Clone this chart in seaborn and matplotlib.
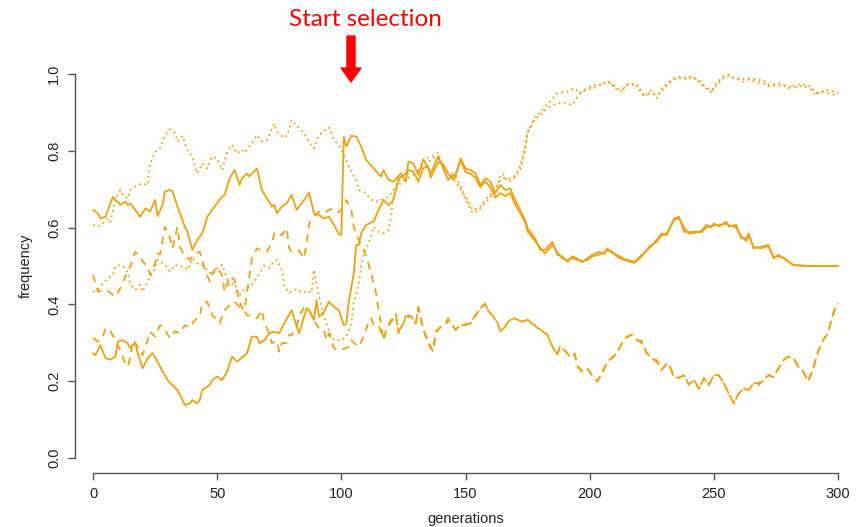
import matplotlib
matplotlib.use("Agg")
import matplotlib.pyplot as plt
import matplotlib.patches as mpatches
import seaborn as sns
import pandas as pd

# ---- data: (generation, allele frequency) ----
solid_a = [(0,0.646),(2,0.637),(3,0.624),(5,0.628),(8,0.68),(11,0.659),(13,0.667),(14,0.659),(15,0.663),(17,0.646),
           (19,0.628),(21,0.65),(23,0.642),(25,0.672),(26,0.63),(28,0.659),(29,0.694),(31,0.698),(32,0.694),(34,0.655),
           (37,0.602),(38,0.59),(40,0.542),(42,0.568),(44,0.585),(46,0.628),(49,0.655),(52,0.681),(53,0.685),(55,0.728),
           (57,0.75),(59,0.711),(60,0.728),(62,0.741),(63,0.733),(66,0.754),(68,0.698),(72,0.655),(73,0.659),(74,0.637),
           (76,0.655),(78,0.663),(80,0.685),(82,0.646),(85,0.672),(87,0.691),(89,0.637),(91,0.633),(93,0.624),(95,0.628),
           (97,0.607),(99,0.583),(100,0.581),(101,0.837),(102,0.811),(104,0.839),(106,0.837),(108,0.811),(110,0.776),
           (113,0.754),(116,0.733),(117,0.75),(119,0.724),(121,0.72),(124,0.741),(126,0.72),(127,0.772),(129,0.767),
           (131,0.737),(133,0.778),(135,0.754),(136,0.741),(139,0.785),(141,0.754),(143,0.724),(145,0.737),(146,0.733),
           (148,0.78),(150,0.754),(152,0.75),(154,0.741),(156,0.711),(158,0.728),(160,0.72),(162,0.689),(164,0.711),
           (166,0.698),(168,0.702),(170,0.672),(174,0.62),(175,0.598),(178,0.572),(180,0.542),(182,0.542),(185,0.563),
           (187,0.529),(189,0.525),(191,0.511),(193,0.525),(195,0.52),(197,0.51),(199,0.52),(201,0.529),(204,0.537),
           (206,0.531),(207,0.546),(209,0.534),(211,0.529),(214,0.518),(218,0.511),(221,0.529),(224,0.546),(227,0.568),
           (229,0.585),(231,0.58),(234,0.624),(236,0.628),(238,0.589),(240,0.589),(242,0.585),(245,0.592),(247,0.607),
           (249,0.6),(250,0.611),(252,0.603),(255,0.615),(256,0.603),(259,0.607),(261,0.572),(263,0.572),(264,0.585),
           (266,0.546),(269,0.55),(272,0.555),(274,0.52),(276,0.529),(278,0.52),(282,0.503),(288,0.5),(300,0.5)]

solid_b = [(0,0.273),(1,0.268),(3,0.294),(5,0.26),(7,0.256),(9,0.264),(10,0.303),(12,0.307),(14,0.298),(15,0.286),
           (17,0.30),(18,0.273),(20,0.234),(22,0.26),(24,0.273),(27,0.238),(30,0.203),(34,0.177),(37,0.138),(39,0.142),
           (40,0.151),(42,0.142),(43,0.151),(44,0.177),(47,0.19),(48,0.203),(50,0.212),(52,0.203),(54,0.225),(56,0.264),
           (58,0.251),(60,0.262),(62,0.273),(64,0.316),(66,0.316),(67,0.299),(69,0.307),(71,0.325),(73,0.329),(75,0.325),
           (77,0.351),(80,0.385),(82,0.342),(83,0.325),(85,0.368),(86,0.39),(87,0.385),(89,0.359),(90,0.411),(91,0.368),
           (93,0.38),(94,0.394),(95,0.407),(97,0.394),(99,0.385),(101,0.346),(102,0.35),(103,0.407),(105,0.481),
           (106,0.555),(107,0.555),(108,0.585),(110,0.607),(113,0.616),(115,0.646),(117,0.672),(119,0.658),(121,0.672),
           (123,0.728),(125,0.735),(127,0.75),(129,0.745),(131,0.72),(133,0.755),(135,0.76),(136,0.73),(139,0.77),
           (141,0.765),(143,0.74),(145,0.725),(146,0.74),(148,0.775),(150,0.745),(152,0.74),(154,0.73),(156,0.705),
           (158,0.72),(160,0.705),(162,0.678),(164,0.69),(166,0.682),(168,0.69),(170,0.66),(174,0.615),(175,0.59),
           (178,0.565),(180,0.548),(182,0.532),(185,0.555),(187,0.535),(189,0.52),(191,0.515),(193,0.52),(195,0.516),
           (197,0.513),(199,0.515),(201,0.525),(204,0.53),(206,0.536),(207,0.54),(209,0.538),(211,0.524),(214,0.515),
           (218,0.508),(221,0.525),(224,0.55),(227,0.563),(229,0.58),(231,0.585),(234,0.62),(236,0.625),(238,0.6),
           (240,0.584),(242,0.59),(245,0.588),(247,0.6),(249,0.605),(250,0.607),(252,0.606),(255,0.61),(256,0.607),
           (259,0.6),(261,0.578),(263,0.565),(264,0.58),(266,0.55),(269,0.546),(272,0.552),(274,0.524),(276,0.525),
           (278,0.522),(282,0.502),(288,0.5),(300,0.5)]

dotted_a = [(0,0.607),(2,0.603),(4,0.611),(6,0.624),(7,0.615),(9,0.672),(11,0.698),(12,0.685),(14,0.676),(15,0.698),
            (18,0.711),(20,0.715),(22,0.711),(23,0.767),(25,0.797),(27,0.806),(29,0.841),(31,0.856),(33,0.846),(34,0.824),
            (36,0.839),(38,0.802),(40,0.785),(42,0.741),(44,0.767),(46,0.754),(48,0.785),(50,0.78),(52,0.75),(54,0.798),
            (56,0.815),(58,0.793),(60,0.803),(61,0.795),(64,0.819),(66,0.841),(68,0.824),(70,0.828),(73,0.87),(74,0.85),
            (77,0.833),(79,0.854),(80,0.88),(83,0.859),(85,0.846),(87,0.824),(89,0.806),(91,0.841),(93,0.85),(95,0.861),
            (97,0.828),(99,0.815),(101,0.789),(103,0.759),(105,0.733),(106,0.724),(107,0.698),(109,0.694),(111,0.681),
            (113,0.668),(115,0.668),(117,0.676),(119,0.68),(121,0.698),(123,0.72),(125,0.733),(128,0.746),(131,0.75),
            (134,0.78),(136,0.785),(138,0.79),(139,0.795),(141,0.759),(143,0.746),(146,0.733),(148,0.707),(150,0.672),
            (153,0.637),(156,0.65),(159,0.672),(162,0.698),(164,0.733),(165,0.741),(167,0.72),(169,0.724),(172,0.75),
            (174,0.802),(175,0.846),(177,0.876),(178,0.889),(180,0.898),(182,0.915),(184,0.928),(187,0.95),(191,0.954),
            (194,0.963),(196,0.95),(199,0.963),(203,0.974),(205,0.97),(207,0.983),(209,0.972),(211,0.958),(213,0.955),
            (215,0.974),(218,0.972),(219,0.974),(220,0.958),(222,0.941),(225,0.958),(227,0.937),(229,0.963),(232,0.98),
            (234,0.989),(237,0.993),(239,0.989),(241,0.995),(244,0.98),(246,0.967),(249,0.951),(251,0.976),(254,0.995),
            (256,0.998),(258,0.989),(262,0.987),(264,0.989),(267,0.985),(270,0.984),(272,0.972),(275,0.974),(277,0.976),
            (280,0.963),(283,0.972),(286,0.972),(289,0.967),(291,0.95),(293,0.953),(296,0.958),(299,0.953),(300,0.951)]

dotted_b = [(0,0.433),(2,0.44),(4,0.455),(6,0.468),(8,0.477),(9,0.498),(11,0.503),(13,0.495),(14,0.481),(15,0.455),
            (17,0.438),(19,0.451),(20,0.433),(22,0.46),(23,0.473),(24,0.48),(26,0.516),(27,0.512),(29,0.503),(31,0.486),
            (33,0.503),(35,0.498),(37,0.498),(38,0.49),(40,0.52),(42,0.507),(44,0.503),(46,0.49),(48,0.477),(50,0.494),
            (52,0.503),(54,0.468),(55,0.447),(57,0.455),(59,0.424),(61,0.44),(63,0.445),(65,0.46),(67,0.48),(69,0.5),
            (71,0.495),(72,0.505),(74,0.516),(76,0.49),(77,0.45),(79,0.43),(82,0.44),(84,0.43),(86,0.435),(88,0.43),
            (89,0.49),(91,0.42),(93,0.368),(95,0.333),(97,0.307),(100,0.307),(102,0.316),(104,0.351),(105,0.403),
            (107,0.455),(108,0.498),(109,0.533),(111,0.559),(113,0.602),(115,0.589),(117,0.585),(119,0.594),(120,0.628),
            (121,0.685),(123,0.711),(125,0.72),(128,0.735),(131,0.745),(134,0.765),(136,0.775),(138,0.785),(140,0.77),
            (142,0.75),(144,0.735),(146,0.72),(148,0.70),(150,0.68),(153,0.645),(156,0.655),(159,0.68),(162,0.70),
            (164,0.725),(166,0.73),(168,0.728),(170,0.735),(172,0.76),(174,0.81),(175,0.85),(177,0.87),(178,0.885),
            (180,0.89),(182,0.905),(184,0.915),(187,0.924),(190,0.925),(193,0.919),(195,0.94),(197,0.955),(199,0.958),
            (203,0.967),(205,0.975),(207,0.978),(209,0.975),(211,0.962),(213,0.958),(215,0.97),(218,0.975),(220,0.962),
            (222,0.946),(225,0.95),(227,0.945),(229,0.955),(232,0.975),(234,0.985),(237,0.99),(239,0.985),(241,0.99),
            (244,0.985),(246,0.97),(249,0.955),(251,0.97),(254,0.99),(256,0.995),(258,0.99),(262,0.98),(264,0.985),
            (267,0.98),(270,0.975),(272,0.968),(275,0.97),(277,0.97),(280,0.968),(283,0.965),(286,0.97),(289,0.96),
            (291,0.945),(293,0.955),(296,0.95),(299,0.945),(300,0.948)]

dashed_a = [(0,0.477),(2,0.433),(4,0.438),(6,0.435),(9,0.42),(11,0.442),(13,0.473),(14,0.49),(15,0.498),(17,0.537),
            (19,0.525),(20,0.512),(22,0.498),(23,0.477),(25,0.507),(26,0.533),(27,0.53),(29,0.602),(31,0.572),(32,0.546),
            (34,0.602),(35,0.55),(37,0.525),(39,0.516),(41,0.533),(43,0.537),(45,0.49),(47,0.46),(48,0.481),(50,0.498),
            (52,0.475),(53,0.433),(55,0.473),(57,0.464),(58,0.433),(60,0.39),(61,0.385),(62,0.43),(64,0.52),(66,0.546),
            (68,0.54),(70,0.537),(72,0.559),(73,0.585),(74,0.589),(76,0.58),(78,0.598),(79,0.546),(80,0.537),(83,0.54),
            (85,0.52),(86,0.559),(87,0.611),(89,0.628),(91,0.642),(93,0.638),(95,0.646),(97,0.65),(99,0.64),(101,0.655),
            (102,0.672),(104,0.646),(105,0.602),(107,0.568),(109,0.542),(110,0.525),(112,0.481),(114,0.429),(115,0.385),
            (117,0.307),(118,0.333),(120,0.355),(122,0.37),(123,0.33),(125,0.35),(126,0.37),(128,0.365),(130,0.35),
            (131,0.39),(133,0.335),(134,0.32),(136,0.285),(137,0.28),(138,0.325),(140,0.342),(142,0.345),(143,0.36),
            (144,0.35),(146,0.335),(148,0.345),(150,0.35),(152,0.35),(154,0.37),(156,0.39),(158,0.40),(159,0.385),
            (161,0.37),(163,0.35),(164,0.33),(166,0.345),(168,0.36),(170,0.362),(173,0.355),(175,0.357),(177,0.35),
            (179,0.338),(181,0.33),(183,0.32),(185,0.29),(187,0.27),(188,0.288),(190,0.28),(192,0.265),(194,0.27),
            (195,0.24),(197,0.226),(199,0.232),(201,0.215),(203,0.2),(205,0.22),(207,0.25),(209,0.262),(211,0.272),
            (213,0.3),(215,0.315),(217,0.322),(219,0.308),(221,0.30),(223,0.272),(225,0.26),(227,0.255),(229,0.23),
            (231,0.245),(232,0.242),(234,0.21),(236,0.21),(238,0.215),(240,0.192),(242,0.203),(244,0.18),(246,0.208),
            (248,0.19),(250,0.216),(252,0.214),(254,0.195),(256,0.168),(258,0.142),(260,0.168),(262,0.18),(264,0.176),
            (266,0.195),(268,0.19),(270,0.203),(272,0.216),(274,0.21),(276,0.233),(278,0.255),(280,0.264),(282,0.26),
            (284,0.238),(286,0.225),(288,0.199),(290,0.233),(292,0.277),(294,0.307),(296,0.325),(297,0.351),(299,0.394),
            (300,0.403)]

dashed_b = [(0,0.312),(2,0.303),(4,0.316),(5,0.338),(7,0.33),(9,0.307),(11,0.281),(13,0.246),(14,0.238),(15,0.26),
            (16,0.307),(18,0.29),(20,0.268),(22,0.307),(23,0.329),(25,0.316),(27,0.346),(29,0.333),(31,0.312),(33,0.33),
            (35,0.325),(37,0.346),(39,0.34),(41,0.359),(43,0.368),(44,0.403),(46,0.407),(48,0.372),(50,0.359),(51,0.351),
            (53,0.385),(55,0.398),(57,0.407),(59,0.394),(60,0.39),(62,0.372),(64,0.37),(66,0.364),(68,0.385),(69,0.351),
            (71,0.325),(72,0.299),(74,0.305),(75,0.277),(76,0.299),(78,0.3),(79,0.321),(80,0.32),(82,0.342),(83,0.368),
            (85,0.394),(87,0.385),(89,0.359),(91,0.338),(93,0.333),(94,0.307),(95,0.325),(97,0.286),(99,0.281),
            (101,0.284),(103,0.29),(104,0.307),(105,0.30),(107,0.29),(109,0.316),(111,0.355),(112,0.364),(113,0.346),
            (115,0.345),(117,0.31),(118,0.33),(120,0.36),(122,0.375),(123,0.325),(125,0.351),(126,0.372),(128,0.37),
            (130,0.351),(131,0.394),(133,0.333),(134,0.316),(136,0.29),(137,0.277),(138,0.329),(140,0.342),(142,0.35),
            (143,0.364),(144,0.355),(146,0.333),(148,0.346),(150,0.346),(152,0.351),(154,0.372),(156,0.39),(158,0.403),
            (159,0.385),(161,0.368),(163,0.351),(164,0.329),(166,0.342),(168,0.359),(170,0.364),(173,0.355),(175,0.36),
            (177,0.353),(179,0.338),(181,0.333),(183,0.321),(185,0.29),(187,0.268),(188,0.29),(190,0.281),(192,0.264),
            (194,0.273),(195,0.238),(197,0.225),(199,0.235),(201,0.216),(203,0.199),(205,0.221),(207,0.251),(209,0.26),
            (211,0.273),(213,0.299),(215,0.316),(217,0.32),(219,0.307),(221,0.305),(223,0.273),(225,0.26),(227,0.25),
            (229,0.229),(231,0.246),(232,0.245),(234,0.212),(236,0.208),(238,0.216),(240,0.19),(242,0.203),(244,0.181),
            (246,0.208),(248,0.19),(250,0.216),(252,0.216),(254,0.195),(256,0.168),(258,0.142),(260,0.168),(262,0.181),
            (264,0.177),(266,0.195),(268,0.195),(270,0.203),(272,0.216),(274,0.212),(276,0.233),(278,0.255),(280,0.264),
            (282,0.262),(284,0.238),(286,0.225),(288,0.2),(290,0.233),(292,0.277),(294,0.307),(296,0.325),(297,0.351),
            (299,0.394),(300,0.403)]

x_ticks = [0, 50, 100, 150, 200, 250, 300]
y_ticks = [0.0, 0.2, 0.4, 0.6, 0.8, 1.0]
y_tick_labels = ["0.0", "0.2", "0.4", "0.6", "0.8", "1.0"]
x_label = "generations"
y_label = "frequency"
annotation = "Start selection"

series = [("solid_a", "solid", solid_a), ("solid_b", "solid", solid_b),
          ("dotted_a", "dotted", dotted_a), ("dotted_b", "dotted", dotted_b),
          ("dashed_a", "dashed", dashed_a), ("dashed_b", "dashed", dashed_b)]

rows = []
for name, kind, pts in series:
    for g, f in pts:
        rows.append({"run": name, "kind": kind, "gen": g, "freq": f})
df = pd.DataFrame(rows)

# ---- styling ----
sns.set_theme(style="white")
plt.rcParams["font.family"] = ["Liberation Sans", "DejaVu Sans"]

W, H = 865, 527
fig = plt.figure(figsize=(W / 100, H / 100), dpi=100)
ax = fig.add_axes([75 / W, 1 - 473.4 / H, (856 - 75) / W, (473.4 - 58.6) / H])

line_color = "#E8A317"
sns.lineplot(data=df, x="gen", y="freq", units="run", style="kind", estimator=None, sort=False,
             color=line_color, linewidth=1.3, legend=False, ax=ax,
             dashes={"solid": "", "dashed": (4.2, 3.4), "dotted": (1.0, 2.0)},
             style_order=["solid", "dashed", "dotted"])

ax.set_xlim(-7.25, 307.25)
ax.set_ylim(-0.04, 1.04)
for s in ["top", "right"]:
    ax.spines[s].set_visible(False)
ax.spines["left"].set_bounds(0, 1)
ax.spines["bottom"].set_bounds(0, 300)
for s in ["left", "bottom"]:
    ax.spines[s].set_color("#555555")
    ax.spines[s].set_linewidth(1.0)

ax.set_xticks(x_ticks)
ax.set_xticklabels([str(t) for t in x_ticks])
ax.set_yticks(y_ticks)
ax.set_yticklabels(y_tick_labels, rotation=90, va="center")
ax.tick_params(axis="both", direction="out", length=5, width=1.0, color="#555555",
               labelsize=10.5, labelcolor="#222222", pad=5, left=True, bottom=True)
ax.set_xlabel(x_label, fontsize=10.5, color="#222222", labelpad=8)
ax.set_ylabel(y_label, fontsize=10.5, color="#222222", labelpad=10)
ax.grid(False)

# ---- annotation: "Start selection" with red arrow ----
fig.text(365 / W, 1 - 20 / H, annotation, color="#FF0000", fontsize=17.5,
         family=["Lato", "DejaVu Sans"], ha="center", va="center")
arrow = mpatches.FancyArrow(351, H - 36, 0, -(82 - 36), width=8, head_width=20, head_length=14,
                            length_includes_head=True, color="#FF0000", transform=None)
fig.patches.append(arrow)

fig.savefig("out.png", dpi=100)
